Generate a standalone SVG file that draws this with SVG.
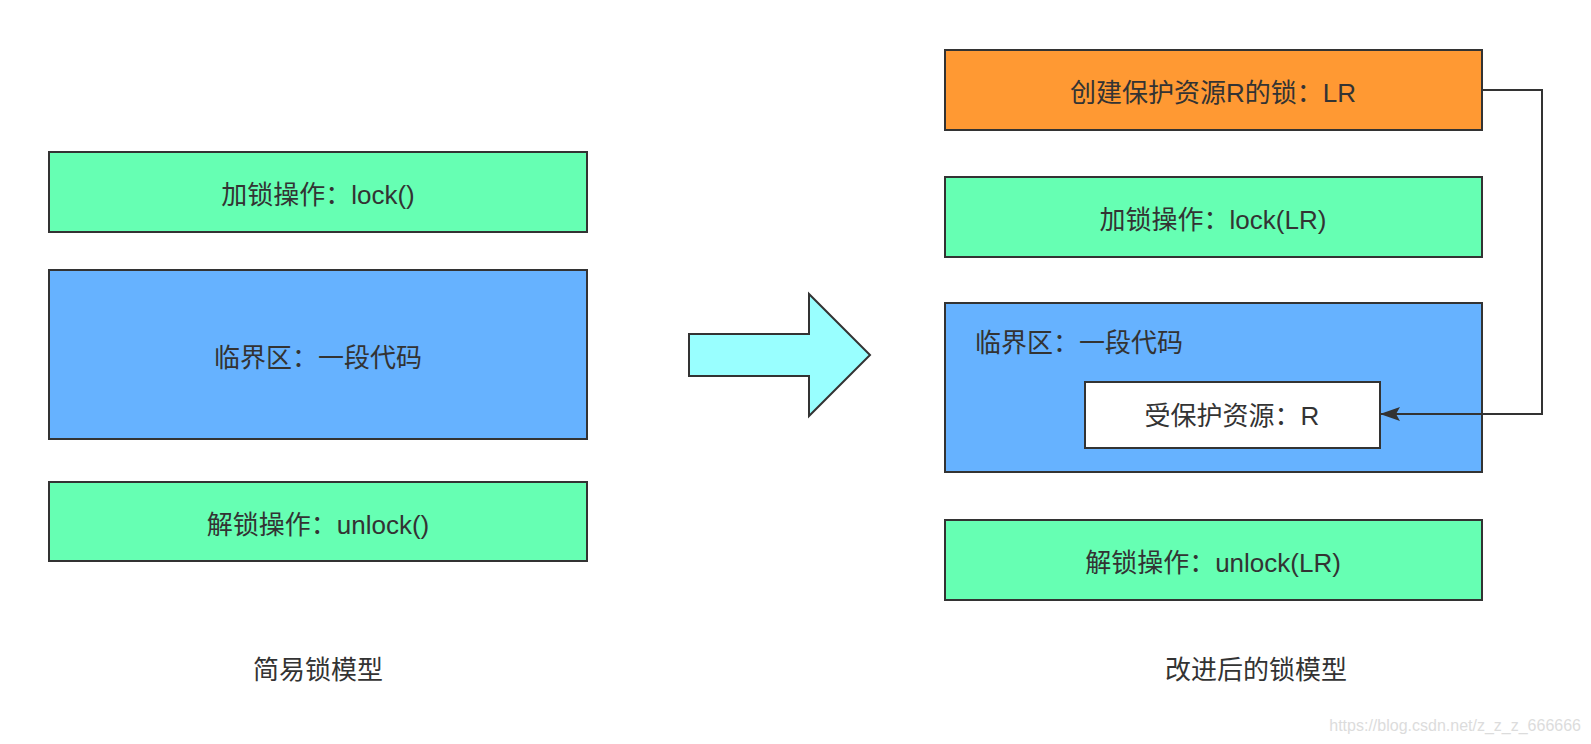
<svg xmlns="http://www.w3.org/2000/svg" width="1591" height="744" viewBox="0 0 1591 744">
<style>
.box{stroke:#333333;stroke-width:2}
.green{fill:#66ffb3}
.blue{fill:#66b2ff}
.orange{fill:#ff9933}
.white{fill:#ffffff}
.t{font-family:"Liberation Sans","Noto Sans CJK SC",sans-serif;font-size:26px;fill:#333333}
.c{text-anchor:middle}
.wm{font-family:"Liberation Sans",Arial,sans-serif;font-size:16px;fill:#dcdcdc;text-anchor:end}
</style>
<defs>
<marker id="ah" markerWidth="20" markerHeight="14" refX="19" refY="7" orient="auto" markerUnits="userSpaceOnUse">
<path d="M0,0 L20,7 L0,14 L4,7 Z" fill="#333333"/>
</marker>
</defs>
<rect width="1591" height="744" fill="#ffffff"/>
<g id="left-lock">
<rect class="box green" x="49" y="152" width="538" height="80"/>
<text class="t c" x="318" y="204">加锁操作：lock()</text>
</g>
<g id="left-critical">
<rect class="box blue" x="49" y="270" width="538" height="169"/>
<text class="t c" x="318" y="367">临界区：一段代码</text>
</g>
<g id="left-unlock">
<rect class="box green" x="49" y="482" width="538" height="79"/>
<text class="t c" x="318" y="534">解锁操作：unlock()</text>
</g>
<g id="left-caption">
<text class="t c" x="318" y="679">简易锁模型</text>
</g>
<g id="big-arrow">
<polygon points="689,334 809,334 809,294 870,355 809,416 809,376 689,376" fill="#99ffff" stroke="#333333" stroke-width="2"/>
</g>
<g id="right-create">
<rect class="box orange" x="945" y="50" width="537" height="80"/>
<text class="t c" x="1213" y="102">创建保护资源R的锁：LR</text>
</g>
<g id="right-lock">
<rect class="box green" x="945" y="177" width="537" height="80"/>
<text class="t c" x="1213" y="229">加锁操作：lock(LR)</text>
</g>
<g id="right-critical">
<rect class="box blue" x="945" y="303" width="537" height="169"/>
<text class="t" x="975" y="352">临界区：一段代码</text>
</g>
<g id="right-resource">
<rect class="box white" x="1085" y="382" width="295" height="66"/>
<text class="t c" x="1232" y="425">受保护资源：R</text>
</g>
<g id="right-unlock">
<rect class="box green" x="945" y="520" width="537" height="80"/>
<text class="t c" x="1213" y="572">解锁操作：unlock(LR)</text>
</g>
<g id="right-caption">
<text class="t c" x="1256" y="679">改进后的锁模型</text>
</g>
<g id="connectors">
<path d="M1482,90 H1542 V414 H1381" fill="none" stroke="#333333" stroke-width="2" marker-end="url(#ah)"/>
</g>
<text class="wm" x="1581" y="731">https://blog.csdn.net/z_z_z_666666</text>
</svg>
